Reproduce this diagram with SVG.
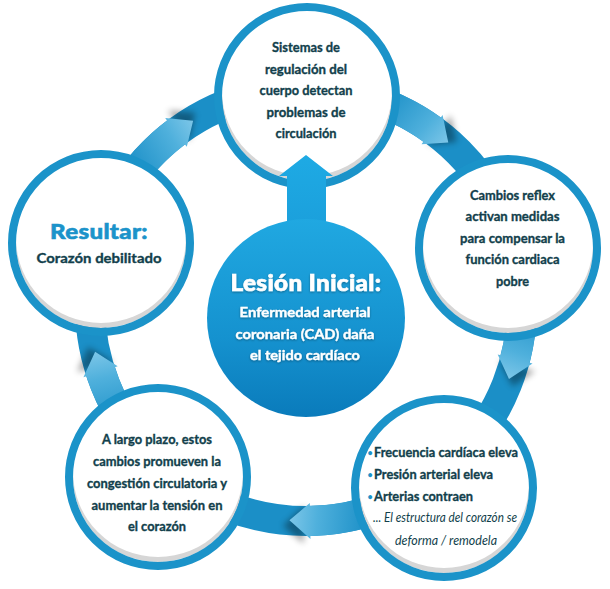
<svg xmlns="http://www.w3.org/2000/svg" width="610" height="589" viewBox="0 0 610 589">
<defs>
  <style>
    .t{font-family:"Lato","Liberation Sans",sans-serif;font-weight:700;font-size:13.5px;fill:#123f4c;stroke:#123f4c;stroke-width:0.35px;text-anchor:middle}
    .tl{text-anchor:start}
    .it{font-style:italic;font-weight:400;stroke-width:0}
    .w{fill:#ffffff;stroke:#ffffff}
    .big{font-weight:900;font-size:21.5px;letter-spacing:0.3px;stroke-width:0.6px}
    .blue{fill:#1b93ca;stroke:#1b93ca}
    .ring{fill:none;stroke:#1b93c9;stroke-width:8}
    .shade{fill:#d6d6d6}
    .bg{fill:#ffffff}
    .bul{font-family:"Lato","Liberation Sans",sans-serif;font-weight:700;font-size:9px;fill:#1b93c9}
  </style>
  <linearGradient id="headG" gradientUnits="userSpaceOnUse" x1="216" y1="0" x2="216" y2="-79">
    <stop offset="0" stop-color="#7cc6e8"/>
    <stop offset="0.35" stop-color="#4fb0dc"/>
    <stop offset="1" stop-color="#1b8fc7"/>
  </linearGradient>
  <linearGradient id="centerG" x1="0" y1="0" x2="0" y2="1">
    <stop offset="0" stop-color="#20a8e1"/>
    <stop offset="0.6" stop-color="#1592cf"/>
    <stop offset="1" stop-color="#0a7bbb"/>
  </linearGradient>
  <linearGradient id="upG" x1="0" y1="0" x2="0" y2="1">
    <stop offset="0" stop-color="#1eaae4"/>
    <stop offset="1" stop-color="#1b9fdb"/>
  </linearGradient>
  <filter id="blur3" x="-50%" y="-50%" width="200%" height="200%">
    <feGaussianBlur stdDeviation="3"/>
  </filter>
  <filter id="tshadow" x="-10%" y="-30%" width="120%" height="160%">
    <feDropShadow dx="0" dy="1" stdDeviation="0.8" flood-color="#000" flood-opacity="0.35"/>
  </filter>
  <g id="arrowHead">
    <path d="M222,6 L238,-16 L200,-14 Z" fill="#000" opacity="0.35" filter="url(#blur3)"/>
    <path d="M216,0 L232.9,-22.4 L229.9,-22.1 A231,231 0 0 0 217.1,-79 L188.9,-68.7 A201,201 0 0 1 200.1,-19.3 L197.1,-19 Z" fill="url(#headG)"/>
  </g>
</defs>

<g id="connectors">
  <circle cx="306" cy="305" r="216" fill="none" stroke="#1b8fc7" stroke-width="30"/>
  <use href="#arrowHead" transform="translate(306,305) rotate(-121.5)"/>
  <use href="#arrowHead" transform="translate(306,305) rotate(-48.8)"/>
  <use href="#arrowHead" transform="translate(306,305) rotate(20)"/>
  <use href="#arrowHead" transform="translate(306,305) rotate(94.4)"/>
  <use href="#arrowHead" transform="translate(306,305) rotate(167.5)"/>
</g>

<g id="node-top">
  <circle class="shade" cx="307" cy="96" r="85"/>
  <circle class="bg" cx="307" cy="91" r="85"/>
  <circle class="ring" cx="307" cy="96" r="89"/>
</g>
<g id="node-right">
  <circle class="shade" cx="508" cy="248" r="85"/>
  <circle class="bg" cx="508" cy="243" r="85"/>
  <circle class="ring" cx="508" cy="248" r="89"/>
</g>
<g id="node-bottom-right">
  <circle class="shade" cx="444" cy="488" r="85"/>
  <circle class="bg" cx="444" cy="483" r="85"/>
  <circle class="ring" cx="444" cy="488" r="89"/>
</g>
<g id="node-bottom-left">
  <circle class="shade" cx="158" cy="477" r="85"/>
  <circle class="bg" cx="158" cy="472" r="85"/>
  <circle class="ring" cx="158" cy="477" r="89"/>
</g>
<g id="node-left">
  <circle class="shade" cx="101" cy="243" r="85"/>
  <circle class="bg" cx="101" cy="238" r="85"/>
  <circle class="ring" cx="101" cy="243" r="89"/>
</g>

<g id="center-arrow">
  <polygon points="306,155 333,176 326,176 326,232 287,232 287,176 279,176" fill="url(#upG)"/>
</g>
<g id="node-center">
  <circle cx="306" cy="318" r="99" fill="url(#centerG)"/>
</g>

<g id="text-top">
  <text class="t" x="306" y="51.5" textLength="68" lengthAdjust="spacingAndGlyphs">Sistemas de</text>
  <text class="t" x="306" y="73.5" textLength="82" lengthAdjust="spacingAndGlyphs">regulación del</text>
  <text class="t" x="306" y="95" textLength="93" lengthAdjust="spacingAndGlyphs">cuerpo detectan</text>
  <text class="t" x="306" y="116.5" textLength="79" lengthAdjust="spacingAndGlyphs">problemas de</text>
  <text class="t" x="306" y="138" textLength="61" lengthAdjust="spacingAndGlyphs">circulación</text>
</g>
<g id="text-right">
  <text class="t" x="512.5" y="199.5" textLength="85" lengthAdjust="spacingAndGlyphs">Cambios reflex</text>
  <text class="t" x="512.5" y="221" textLength="94" lengthAdjust="spacingAndGlyphs">activan medidas</text>
  <text class="t" x="512.5" y="242.5" textLength="105" lengthAdjust="spacingAndGlyphs">para compensar la</text>
  <text class="t" x="512.5" y="264" textLength="94" lengthAdjust="spacingAndGlyphs">función cardiaca</text>
  <text class="t" x="512.5" y="285.5" textLength="33" lengthAdjust="spacingAndGlyphs">pobre</text>
</g>
<g id="text-bottom-right">
  <text class="bul" x="367.5" y="456">•</text>
  <text class="bul" x="367.5" y="478">•</text>
  <text class="bul" x="367.5" y="500">•</text>
  <text class="t tl" x="374" y="457" textLength="144" lengthAdjust="spacingAndGlyphs">Frecuencia cardíaca eleva</text>
  <text class="t tl" x="374" y="479" textLength="119" lengthAdjust="spacingAndGlyphs">Presión arterial eleva</text>
  <text class="t tl" x="374" y="501" textLength="99" lengthAdjust="spacingAndGlyphs">Arterias contraen</text>
  <text class="t tl it" x="373" y="522" textLength="144" lengthAdjust="spacingAndGlyphs">... El estructura del corazón se</text>
  <text class="t it" x="446" y="544.5" textLength="102" lengthAdjust="spacingAndGlyphs">deforma / remodela</text>
</g>
<g id="text-bottom-left">
  <text class="t" x="157" y="444" textLength="110" lengthAdjust="spacingAndGlyphs">A largo plazo, estos</text>
  <text class="t" x="157" y="466" textLength="128" lengthAdjust="spacingAndGlyphs">cambios promueven la</text>
  <text class="t" x="157" y="487.5" textLength="140" lengthAdjust="spacingAndGlyphs">congestión circulatoria y</text>
  <text class="t" x="157" y="509.5" textLength="131" lengthAdjust="spacingAndGlyphs">aumentar la tensión en</text>
  <text class="t" x="157" y="531" textLength="58" lengthAdjust="spacingAndGlyphs">el corazón</text>
</g>
<g id="text-left">
  <text class="t big blue" x="99" y="239" textLength="98" lengthAdjust="spacingAndGlyphs">Resultar:</text>
  <text class="t" x="99" y="262.5" textLength="125" lengthAdjust="spacingAndGlyphs">Corazón debilitado</text>
</g>
<g id="text-center" filter="url(#tshadow)">
  <text class="t big w" x="306" y="290.5" textLength="151" lengthAdjust="spacingAndGlyphs" style="font-size:22px">Lesión Inicial:</text>
  <text class="t w" x="305" y="316.5" textLength="131" lengthAdjust="spacingAndGlyphs">Enfermedad arterial</text>
  <text class="t w" x="305" y="338.5" textLength="139" lengthAdjust="spacingAndGlyphs">coronaria (CAD) daña</text>
  <text class="t w" x="305" y="360" textLength="110" lengthAdjust="spacingAndGlyphs">el tejido cardíaco</text>
</g>
</svg>
